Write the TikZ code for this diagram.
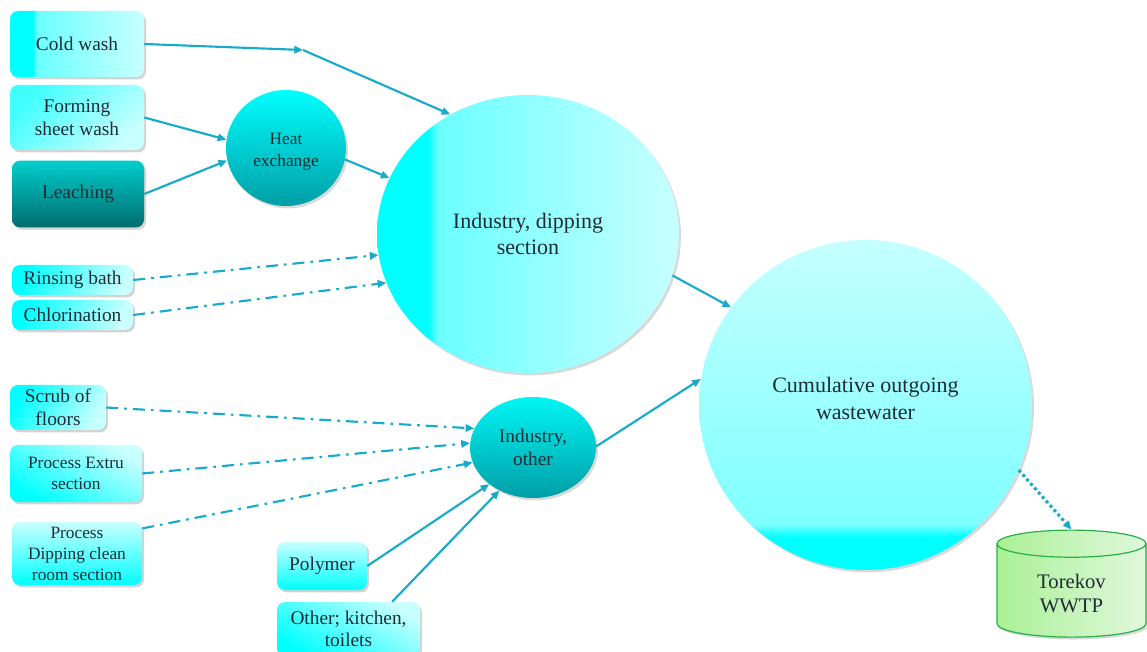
\documentclass[tikz,border=0pt]{standalone}
\usepackage{fontspec}
\setmainfont{Liberation Serif}
\usetikzlibrary{shapes.geometric,shadows,arrows.meta}

\definecolor{flow}{RGB}{22,170,204}
\definecolor{ink}{RGB}{30,44,54}
\definecolor{aqua}{RGB}{0,255,255}
\definecolor{paleaqua}{RGB}{200,255,255}
\definecolor{tealtop}{RGB}{0,206,204}
\definecolor{tealbot}{RGB}{0,108,110}
\definecolor{deeptop}{RGB}{0,245,245}
\definecolor{deepbot}{RGB}{0,158,166}
\definecolor{plantleft}{RGB}{170,240,150}
\definecolor{plantright}{RGB}{224,248,220}
\definecolor{plantline}{RGB}{40,176,70}

% hard cyan strip on the left, then fading out
\pgfdeclarehorizontalshading{washshade}{100bp}{color(0bp)=(aqua); color(33.5bp)=(aqua); color(35bp)=(aqua!58!white); color(75bp)=(paleaqua); color(100bp)=(paleaqua)}
% pale on top, solid cyan band at the bottom
\pgfdeclareverticalshading{outshade}{100bp}{color(0bp)=(aqua); color(30bp)=(aqua); color(32bp)=(aqua!50!white); color(75bp)=(aqua!23!white); color(100bp)=(aqua!23!white)}

\tikzset{
  box/.style={rectangle, rounded corners=6pt, text=ink, align=center, inner sep=2pt,
    font=\fontsize{14.5}{17}\selectfont,
    drop shadow={opacity=0.35, shadow xshift=1.5pt, shadow yshift=-1.8pt}},
  pool/.style={ellipse, inner sep=0pt, text=ink, align=center,
    drop shadow={opacity=0.3, shadow xshift=1.5pt, shadow yshift=-1.8pt}},
  flowline/.style={draw=flow, line width=1.6pt, -{Triangle[length=6.5pt,width=5.5pt]}},
  dashflow/.style={flowline, dash pattern=on 9pt off 4.5pt on 2pt off 4.5pt},
  dotflow/.style={flowline, line width=2.4pt, dash pattern=on 2.2pt off 2.2pt}
}

\begin{document}
\begin{tikzpicture}[x=0.75pt,y=0.75pt,yscale=-1,xscale=1]
\useasboundingbox (0,0) rectangle (1147,652);

%Sources, upper group
\node[box, shade, shading=washshade, minimum width=100.5pt, minimum height=49.5pt] (cold) at (77,44) {Cold wash};
\node[box, top color=aqua!75!white, bottom color=paleaqua, shading angle=45, minimum width=100.5pt, minimum height=48.75pt] (forming) at (77,117.5) {Forming\\sheet wash};
\node[box, top color=tealtop, bottom color=tealbot, minimum width=99pt, minimum height=50pt] (leaching) at (78,194) {Leaching};
\node[box, top color=aqua, bottom color=paleaqua, shading angle=70, minimum width=90.75pt, minimum height=22.5pt] (rinsing) at (72.5,280) {Rinsing bath};
\node[box, top color=aqua, bottom color=paleaqua, shading angle=70, minimum width=90.75pt, minimum height=22.5pt] (chlor) at (72.5,315) {Chlorination};

%Sources, lower group
\node[box, top color=aqua, bottom color=paleaqua, shading angle=60, minimum width=72pt, minimum height=33.75pt, font=\fontsize{14.5}{17.25}\selectfont] (scrub) at (58,407.5) {Scrub of\\floors};
\node[box, top color=paleaqua, bottom color=aqua, shading angle=-30, minimum width=99pt, minimum height=42.75pt, font=\fontsize{13}{15.75}\selectfont] (extru) at (76,473.5) {Process Extru\\section};
\node[box, top color=paleaqua, bottom color=aqua, minimum width=97.5pt, minimum height=47.25pt, font=\fontsize{13}{15.75}\selectfont] (dclean) at (77,553.5) {Process\\Dipping clean\\room section};
\node[box, top color=paleaqua, bottom color=aqua, minimum width=67.5pt, minimum height=36pt] (polymer) at (322,566) {Polymer};
\node[box, top color=paleaqua, bottom color=aqua, shading angle=-30, minimum width=107.25pt, minimum height=40.5pt] (kitchen) at (348.5,629) {Other; kitchen,\\toilets};

%Collecting pools
\node[pool, top color=aqua, bottom color=deepbot, minimum width=90pt, minimum height=87pt, text height=31pt, font=\fontsize{13}{16.5}\selectfont] (heat) at (286,148) {Heat\\exchange};
\node[pool, shade, shading=washshade, minimum width=226.5pt, minimum height=208.5pt, font=\fontsize{16.5}{20}\selectfont] (dip) at (528,234) {Industry, dipping\\section};
\node[pool, top color=deeptop, bottom color=deepbot, minimum width=94.5pt, minimum height=75.75pt, font=\fontsize{14.5}{17.25}\selectfont] (iother) at (533,447.5) {Industry,\\other};
\node[pool, shade, shading=outshade, minimum width=249.75pt, minimum height=247.5pt, text depth=10pt, font=\fontsize{16.5}{20}\selectfont] (cum) at (865.5,405) {Cumulative outgoing\\wastewater};

%Treatment plant
\node[cylinder, shape border rotate=90, aspect=0.35, draw=plantline, line width=0.9pt, left color=plantleft, right color=plantright, text=ink, align=center, minimum width=111.75pt, minimum height=80.25pt, font=\fontsize{15.5}{18}\selectfont,
  drop shadow={opacity=0.3, shadow xshift=1.5pt, shadow yshift=-1.8pt}] (wwtp) at (1071.5,593) {Torekov\\WWTP};

%Flows
\coordinate (bend) at (303,50);
\draw[flowline] (cold.east) -- (bend);
\draw[flowline] (bend) -- (dip.123);
\draw[flowline] (forming.east) -- (heat.172);
\draw[flowline] (leaching.east) -- (heat.-168);
\draw[flowline] (heat.-11) -- (dip.158);
\draw[dashflow] (rinsing.east) -- (dip.188);
\draw[dashflow] (chlor.east) -- (dip.199);
\draw[flowline] (dip.-16) -- (cum.144);
\draw[dashflow] (scrub.east) -- (iother.162);
\draw[dashflow] (extru.east) -- (iother.176);
\draw[dashflow] (dclean.21) -- (iother.194);
\draw[flowline] (polymer.east) -- (iother.220);
\draw[flowline] (kitchen.32) -- (iother.232);
\draw[flowline] (iother.1) -- (cum.171);
\draw[dotflow] (cum.-23) -- (wwtp.north);

\end{tikzpicture}
\end{document}
